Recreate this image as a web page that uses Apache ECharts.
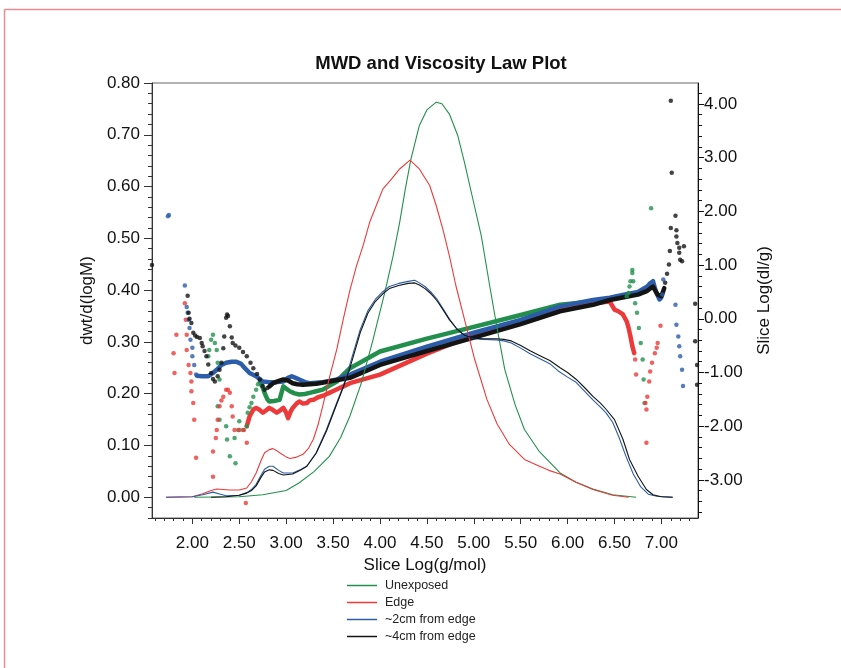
<!DOCTYPE html>
<html><head><meta charset="utf-8">
<script src="https://cdn.jsdelivr.net/npm/echarts@6/dist/echarts.min.js"></script>
<style>html,body{margin:0;padding:0;background:#fff}#c{width:841px;height:668px}</style>
</head><body><div id="c"></div>
<script>
// ---------- tick labels ----------
const xTickLabels = [2.0,2.5,3.0,3.5,4.0,4.5,5.0,5.5,6.0,6.5,7.0];
const yLeftTickLabels = [0.0,0.1,0.2,0.3,0.4,0.5,0.6,0.7,0.8];
const yRightTickLabels = [-3,-2,-1,0,1,2,3,4];
const legendNames = ['Unexposed','Edge','~2cm from edge','~4cm from edge'];

// ---------- MWD curves: [Slice Log(g/mol), dwt/d(logM)] ----------
const unexposedMWD = [[2.02,0],[2.5,0.001],[2.75,0.005],[3.0,0.013],[3.14,0.028],[3.3,0.05],[3.46,0.079],[3.58,0.115],[3.68,0.157],[3.80,0.22],[3.92,0.30],[4.06,0.402],[4.14,0.466],[4.21,0.531],[4.27,0.595],[4.33,0.653],[4.42,0.718],[4.50,0.748],[4.60,0.763],[4.66,0.760],[4.74,0.740],[4.83,0.698],[4.90,0.647],[4.99,0.576],[5.08,0.505],[5.17,0.408],[5.25,0.325],[5.33,0.247],[5.44,0.179],[5.54,0.131],[5.70,0.088],[5.92,0.047],[6.09,0.029],[6.27,0.016],[6.48,0.005],[6.73,0.0]];
const edgeMWD = [[1.72,0],[2.0,0.001],[2.11,0.007],[2.2,0.013],[2.26,0.016],[2.33,0.015],[2.40,0.014],[2.50,0.014],[2.58,0.018],[2.63,0.03],[2.68,0.047],[2.73,0.07],[2.77,0.086],[2.82,0.092],[2.86,0.094],[2.90,0.09],[2.93,0.086],[3.0,0.078],[3.04,0.075],[3.1,0.077],[3.18,0.083],[3.24,0.095],[3.29,0.112],[3.34,0.14],[3.39,0.176],[3.46,0.23],[3.54,0.286],[3.61,0.345],[3.68,0.40],[3.75,0.447],[3.82,0.486],[3.89,0.531],[3.96,0.563],[4.03,0.595],[4.12,0.614],[4.21,0.634],[4.32,0.651],[4.42,0.634],[4.53,0.602],[4.60,0.563],[4.67,0.518],[4.74,0.466],[4.81,0.408],[4.90,0.344],[5.01,0.266],[5.14,0.189],[5.25,0.141],[5.38,0.102],[5.54,0.073],[5.70,0.06],[5.80,0.052],[5.92,0.045],[6.09,0.029],[6.27,0.015],[6.48,0.004],[6.65,0.0]];
const cm2MWD = [[1.72,0],[2.0,0.001],[2.11,0.005],[2.22,0.01],[2.30,0.006],[2.36,0.003],[2.50,0.004],[2.58,0.009],[2.63,0.015],[2.68,0.025],[2.73,0.042],[2.77,0.054],[2.82,0.06],[2.86,0.06],[2.92,0.052],[2.97,0.047],[3.07,0.047],[3.15,0.053],[3.22,0.06],[3.32,0.086],[3.43,0.131],[3.54,0.183],[3.61,0.215],[3.68,0.257],[3.79,0.324],[3.87,0.36],[3.95,0.382],[4.03,0.397],[4.10,0.407],[4.20,0.413],[4.30,0.417],[4.37,0.419],[4.42,0.414],[4.48,0.407],[4.55,0.395],[4.61,0.382],[4.68,0.362],[4.74,0.344],[4.82,0.325],[4.90,0.312],[5.0,0.306],[5.1,0.305],[5.24,0.304],[5.32,0.302],[5.40,0.298],[5.50,0.288],[5.6,0.277],[5.70,0.268],[5.81,0.258],[5.90,0.244],[6.0,0.232],[6.09,0.222],[6.18,0.205],[6.27,0.188],[6.35,0.174],[6.41,0.163],[6.48,0.145],[6.55,0.115],[6.62,0.08],[6.70,0.045],[6.78,0.02],[6.86,0.006],[6.95,0.002],[7.12,0.0]];
const cm4MWD = [[2.2,0.0],[2.36,0.001],[2.50,0.004],[2.58,0.008],[2.63,0.013],[2.68,0.022],[2.73,0.038],[2.77,0.049],[2.82,0.053],[2.86,0.052],[2.92,0.046],[2.97,0.043],[3.07,0.045],[3.15,0.052],[3.22,0.06],[3.32,0.085],[3.43,0.128],[3.54,0.18],[3.61,0.213],[3.68,0.25],[3.79,0.318],[3.87,0.355],[3.95,0.378],[4.03,0.393],[4.10,0.403],[4.20,0.409],[4.30,0.413],[4.37,0.414],[4.42,0.41],[4.48,0.403],[4.55,0.392],[4.61,0.379],[4.68,0.36],[4.74,0.343],[4.82,0.325],[4.90,0.313],[5.0,0.307],[5.1,0.306],[5.24,0.306],[5.32,0.305],[5.40,0.302],[5.50,0.293],[5.6,0.283],[5.70,0.274],[5.81,0.264],[5.92,0.25],[6.0,0.241],[6.09,0.228],[6.18,0.212],[6.27,0.195],[6.35,0.182],[6.41,0.170],[6.50,0.150],[6.59,0.112],[6.66,0.073],[6.75,0.041],[6.84,0.015],[6.91,0.005],[7.0,0.001],[7.12,0.0]];

// ---------- Viscosity slices: [Slice Log(g/mol), Slice Log(dl/g)] ----------
// dense bands
const unexposedViscBand = [[2.72,-1.17],[2.75,-1.28],[2.77,-1.38],[2.80,-1.50],[2.82,-1.54],[2.87,-1.53],[2.93,-1.51],[2.95,-1.38],[2.97,-1.26],[3.00,-1.30],[3.04,-1.35],[3.09,-1.39],[3.14,-1.41],[3.20,-1.40],[3.25,-1.38],[3.32,-1.35],[3.39,-1.32],[3.46,-1.25],[3.54,-1.17],[3.61,-1.04],[3.68,-0.92],[4.0,-0.61],[4.5,-0.37],[5.0,-0.15],[5.5,0.07],[5.92,0.26],[6.27,0.32],[6.45,0.38],[6.6,0.42]];
const edgeViscBand = [[2.58,-2.0],[2.61,-1.82],[2.65,-1.69],[2.68,-1.66],[2.72,-1.70],[2.75,-1.75],[2.79,-1.70],[2.82,-1.66],[2.86,-1.70],[2.90,-1.75],[2.94,-1.70],[2.97,-1.66],[3.00,-1.75],[3.02,-1.85],[3.05,-1.72],[3.07,-1.66],[3.11,-1.58],[3.14,-1.54],[3.18,-1.58],[3.22,-1.57],[3.25,-1.52],[3.29,-1.51],[3.33,-1.47],[3.36,-1.45],[3.41,-1.42],[3.46,-1.38],[3.52,-1.33],[3.57,-1.29],[3.62,-1.25],[3.68,-1.20],[4.0,-1.04],[4.5,-0.65],[5.0,-0.30],[5.5,-0.05],[5.92,0.20],[6.27,0.29],[6.45,0.32],[6.46,0.29],[6.50,0.17],[6.54,0.14],[6.59,0.08],[6.63,-0.05],[6.65,-0.17],[6.67,-0.33],[6.69,-0.51],[6.71,-0.64]];
const cm2ViscBand = [[2.05,-1.06],[2.10,-1.07],[2.17,-1.07],[2.22,-1.01],[2.26,-0.95],[2.31,-0.86],[2.36,-0.82],[2.42,-0.80],[2.47,-0.80],[2.52,-0.84],[2.56,-0.92],[2.61,-1.01],[2.68,-1.07],[2.75,-1.17],[2.82,-1.18],[2.90,-1.18],[2.97,-1.17],[3.02,-1.10],[3.06,-1.07],[3.10,-1.10],[3.14,-1.13],[3.20,-1.18],[3.25,-1.20],[3.32,-1.19],[3.39,-1.18],[3.46,-1.16],[3.54,-1.13],[3.61,-1.08],[3.68,-1.04],[4.0,-0.80],[4.5,-0.52],[5.0,-0.26],[5.5,-0.02],[5.92,0.23],[6.27,0.35],[6.45,0.39],[6.6,0.45],[6.75,0.50],[6.85,0.60],[6.88,0.66],[6.91,0.70],[6.94,0.51],[6.98,0.36],[7.0,0.40]];
const cm4ViscBand = [[2.82,-1.26],[2.86,-1.20],[2.90,-1.17],[2.97,-1.13],[3.02,-1.15],[3.07,-1.20],[3.12,-1.22],[3.18,-1.23],[3.25,-1.22],[3.32,-1.21],[3.46,-1.17],[3.68,-1.10],[4.0,-0.86],[4.5,-0.60],[5.0,-0.35],[5.5,-0.10],[5.92,0.14],[6.27,0.26],[6.45,0.35],[6.6,0.40],[6.75,0.45],[6.85,0.52],[6.91,0.60],[6.96,0.45],[7.00,0.42],[7.03,0.57]];
// isolated points
const unexposedViscDots = [[2.17,-0.70],[2.18,-0.58],[2.20,-0.39],[2.22,-0.30],[2.24,-0.45],[2.26,-0.58],[2.27,-0.82],[2.29,-1.13],[2.27,-1.63],[2.29,-1.88],[2.36,-2.00],[2.37,-2.25],[2.40,-2.56],[2.46,-2.69],[2.45,-2.22],[2.49,-2.07],[2.50,-1.91],[2.54,-2.07],[2.58,-2.00],[2.59,-1.75],[2.61,-1.65],[2.63,-1.57],[2.65,-1.45],[2.68,-1.32],[2.70,-1.22],[6.63,0.42],[6.65,0.48],[6.66,0.60],[6.67,0.70],[6.69,0.91],[6.69,0.85],[6.70,0.70],[6.72,0.29],[6.74,0.11],[6.76,-0.17],[6.78,-0.45],[6.80,-0.76],[6.81,-1.13],[6.82,-1.57],[6.89,2.06]];
const edgeViscDots = [[1.80,-0.64],[1.81,-1.01],[1.83,-0.30],[1.92,0.29],[1.93,-0.02],[1.94,-0.30],[1.94,-0.58],[1.96,-0.86],[1.98,-1.01],[1.99,-1.17],[1.99,-1.35],[2.01,-1.57],[2.02,-1.88],[2.04,-2.59],[2.22,-2.47],[2.22,-2.94],[2.25,-2.22],[2.26,-2.07],[2.27,-1.88],[2.29,-1.63],[2.31,-1.52],[2.33,-1.45],[2.36,-1.32],[2.38,-1.32],[2.40,-1.38],[2.42,-1.63],[2.43,-1.82],[2.45,-2.07],[2.50,-2.07],[2.55,-2.07],[2.58,-2.31],[2.57,-3.43],[6.72,-0.76],[6.73,-1.04],[6.83,-1.57],[6.84,-1.69],[6.84,-2.31],[6.85,-1.45],[6.87,-1.17],[6.88,-0.98],[6.90,-0.82],[6.93,-0.64],[6.95,-0.54],[6.96,-0.45],[6.99,-0.13]];
const cm2ViscDots = [[1.74,1.91],[1.75,1.93],[1.92,0.62],[1.94,0.22],[1.95,0.11],[1.96,-0.02],[1.97,-0.17],[1.98,-0.39],[2.0,-0.54],[2.0,-0.70],[2.02,-0.86],[2.04,-1.04],[7.01,0.45],[7.02,0.73],[7.15,0.26],[7.16,-0.11],[7.18,-0.33],[7.19,-0.51],[7.20,-0.70],[7.22,-0.95],[7.23,-1.25]];
const cm4ViscDots = [[1.57,1.0],[1.95,0.43],[1.96,0.11],[1.97,0.0],[1.99,-0.08],[2.01,-0.26],[2.03,-0.31],[2.05,-0.34],[2.08,-0.36],[2.10,-0.45],[2.11,-0.51],[2.13,-0.60],[2.15,-0.70],[2.17,-0.85],[2.20,-1.01],[2.22,-1.12],[2.24,-1.17],[2.27,-1.07],[2.29,-0.95],[2.31,-0.82],[2.33,-0.55],[2.34,-0.33],[2.36,0.02],[2.37,0.08],[2.38,0.05],[2.40,-0.14],[2.42,-0.35],[2.43,-0.45],[2.46,-0.50],[2.50,-0.54],[2.54,-0.62],[2.58,-0.70],[2.62,-0.82],[2.65,-0.92],[2.69,-1.03],[2.72,-1.13],[2.75,-1.25],[2.77,-1.32],[2.80,-1.29],[7.04,0.67],[7.06,0.84],[7.08,1.01],[7.09,1.26],[7.10,1.69],[7.15,1.92],[7.16,1.65],[7.16,1.53],[7.17,1.41],[7.19,1.32],[7.19,1.23],[7.20,1.10],[7.22,1.07],[7.24,1.35],[7.36,0.28],[7.36,-0.42],[7.38,-0.86],[7.38,-1.23],[7.10,4.06],[7.11,2.72]];

// ---------- build ----------
const X_MIN=1.57, X_MAX=7.39, YL_MIN=-0.04, YL_MAX=0.80, YR_MIN=-3.71, YR_MAX=4.39;
function steps(a,b,s){const r=[];for(let v=a;v<=b+1e-9;v+=s)r.push(+v.toFixed(4));return r;}
const colors = {'Unexposed':'#22904c','Edge':'#ec3a3a','~2cm from edge':'#2c5daa','~4cm from edge':'#141414'};
const FONT = '"Liberation Sans", Arial, sans-serif';

const mwd = [unexposedMWD, edgeMWD, cm2MWD, cm4MWD];
const bands = [unexposedViscBand, edgeViscBand, cm2ViscBand, cm4ViscBand];
const dots = [unexposedViscDots, edgeViscDots, cm2ViscDots, cm4ViscDots];

const series = [];
legendNames.forEach((n,i)=>{
  const c = colors[n];
  series.push({name:n, type:'line', xAxisIndex:0, yAxisIndex:0, data:mwd[i], showSymbol:false, symbol:'none',
    lineStyle:{color:c, width:1.1}, itemStyle:{color:c}, z:3});
});
legendNames.forEach((n,i)=>{
  const c = colors[n];
  series.push({name:n+' visc', type:'line', xAxisIndex:0, yAxisIndex:1, data:bands[i], showSymbol:false, symbol:'none',
    lineStyle:{color:c, width:4.5, cap:'round', join:'round'}, itemStyle:{color:c}, z:2});
  series.push({name:n+' pts', type:'scatter', xAxisIndex:0, yAxisIndex:1, data:dots[i], symbolSize:4.5,
    itemStyle:{color:c}, z:2});
});

const axisLineDark = {show:true, onZero:false, lineStyle:{color:'#333', width:1}};
const option = {
  animation:false,
  backgroundColor:'#fff',
  title:{text:'MWD and Viscosity Law Plot', left:436, top:49, textAlign:'center',
    textStyle:{fontFamily:FONT, fontSize:18.5, fontWeight:'bold', color:'#111'}},
  legend:{data:legendNames.map(n=>({name:n, icon:'rect'})), orient:'vertical', left:342, top:574,
    itemWidth:30, itemHeight:1.5, itemGap:4,
    textStyle:{fontFamily:FONT, fontSize:12.5, color:'#222', padding:[0,0,0,3]}},
  grid:{left:152, right:143, top:83, bottom:150, show:true, borderColor:'#666', borderWidth:1, containLabel:false},
  xAxis:[
    {type:'value', min:X_MIN, max:X_MAX, position:'bottom',
      name:'Slice Log(g/mol)', nameLocation:'middle', nameGap:38,
      nameTextStyle:{fontFamily:FONT, fontSize:17, color:'#111'},
      axisLine:axisLineDark, splitLine:{show:false},
      axisTick:{show:true, length:6, customValues:xTickLabels, lineStyle:{color:'#333'}},
      axisLabel:{customValues:xTickLabels, formatter:v=>v.toFixed(2), fontFamily:FONT, fontSize:17, color:'#111', margin:17}},
    {type:'value', min:X_MIN, max:X_MAX, position:'bottom',
      axisLine:{show:false, onZero:false}, splitLine:{show:false}, axisLabel:{show:false},
      axisTick:{show:true, length:3, customValues:steps(1.6,7.3,0.1), lineStyle:{color:'#333'}}}
  ],
  yAxis:[
    {type:'value', min:YL_MIN, max:YL_MAX, position:'left',
      name:'dwt/d(logM)', nameLocation:'middle', nameGap:49, nameRotate:90,
      nameTextStyle:{fontFamily:FONT, fontSize:17, color:'#111'},
      axisLine:axisLineDark, splitLine:{show:false},
      axisTick:{show:true, length:8, customValues:yLeftTickLabels, lineStyle:{color:'#333'}},
      axisLabel:{customValues:yLeftTickLabels, formatter:v=>v.toFixed(2), fontFamily:FONT, fontSize:17, color:'#111', margin:12}},
    {type:'value', min:YR_MIN, max:YR_MAX, position:'right',
      name:'Slice Log(dl/g)', nameLocation:'middle', nameGap:58, nameRotate:90,
      nameTextStyle:{fontFamily:FONT, fontSize:17, color:'#111'},
      axisLine:{show:true, onZero:false, lineStyle:{color:'#111', width:1}}, splitLine:{show:false},
      axisTick:{show:true, length:6, customValues:yRightTickLabels, lineStyle:{color:'#111'}},
      axisLabel:{customValues:yRightTickLabels, formatter:v=>v.toFixed(2), fontFamily:FONT, fontSize:17, color:'#111', margin:6}},
    {type:'value', min:YL_MIN, max:YL_MAX, position:'left',
      axisLine:{show:false, onZero:false}, splitLine:{show:false}, axisLabel:{show:false},
      axisTick:{show:true, length:4, customValues:steps(-0.04,0.78,0.02), lineStyle:{color:'#333'}}},
    {type:'value', min:YR_MIN, max:YR_MAX, position:'right',
      axisLine:{show:false, onZero:false}, splitLine:{show:false}, axisLabel:{show:false},
      axisTick:{show:true, length:4, customValues:steps(-3.6,4.2,0.2), lineStyle:{color:'#111'}}}
  ],
  graphic:[
    {type:'line', shape:{x1:4.5, y1:9.5, x2:841, y2:9.5}, style:{stroke:'#ee8a8f', lineWidth:1.5}, silent:true},
    {type:'line', shape:{x1:4.5, y1:9.5, x2:4.5, y2:668}, style:{stroke:'#ee8a8f', lineWidth:1.5}, silent:true}
  ],
  series:series
};
const chart = echarts.init(document.getElementById('c'), null, {renderer:'canvas'});
chart.setOption(option);
</script>
</body></html>
